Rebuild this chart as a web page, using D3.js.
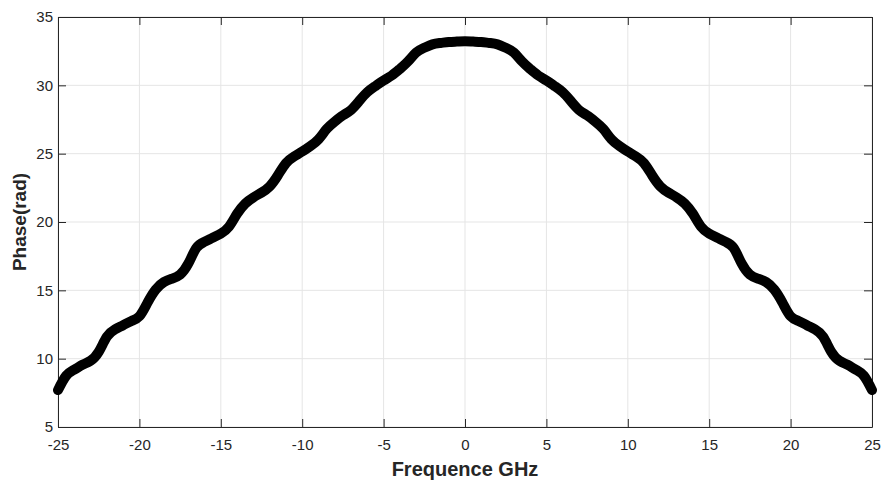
<html>
<head>
<meta charset="utf-8">
<title>Phase</title>
<style>
  body { margin: 0; background: #fff; }
  svg { display: block; font-family: Arial, 'Liberation Sans', sans-serif; }
</style>
</head>
<body>
<div id="chart"></div>
<script src="https://cdn.jsdelivr.net/npm/d3@7"></script>
<script>
  // data (GHz, rad)
  const freq = [-25, -24.5, -24, -23.5, -23, -22.5, -22, -21.5, -21, -20.5,
    -20, -19.5, -19, -18.5, -18, -17.5, -17, -16.5, -16, -15.5,
    -15, -14.5, -14, -13.5, -13, -12.5, -12, -11.5, -11, -10.5,
    -10, -9.5, -9, -8.5, -8, -7.5, -7, -6.5, -6, -5.5,
    -5, -4.5, -4, -3.5, -3, -2.5, -2, -1.5, -1, -0.5,
    0, 0.5, 1, 1.5, 2, 2.5, 3, 3.5, 4, 4.5,
    5, 5.5, 6, 6.5, 7, 7.5, 8, 8.5, 9, 9.5,
    10, 10.5, 11, 11.5, 12, 12.5, 13, 13.5, 14, 14.5,
    15, 15.5, 16, 16.5, 17, 17.5, 18, 18.5, 19, 19.5,
    20, 20.5, 21, 21.5, 22, 22.5, 23, 23.5, 24, 24.5, 25]
  const phase = [7.7, 8.75, 9.2, 9.55, 9.85, 10.5, 11.6, 12.15, 12.45, 12.75,
    13.1, 14.1, 15.05, 15.6, 15.85, 16.15, 16.95, 18.1, 18.55, 18.85,
    19.15, 19.65, 20.6, 21.35, 21.8, 22.15, 22.6, 23.4, 24.3, 24.8,
    25.15, 25.55, 26.05, 26.8, 27.35, 27.8, 28.2, 28.85, 29.5, 29.95,
    30.35, 30.72, 31.2, 31.75, 32.4, 32.75, 33.0, 33.1, 33.17, 33.2,
    33.22, 33.2, 33.17, 33.1, 33.0, 32.75, 32.4, 31.75, 31.2, 30.72,
    30.35, 29.95, 29.5, 28.85, 28.2, 27.8, 27.35, 26.8, 26.05, 25.55,
    25.15, 24.8, 24.3, 23.4, 22.6, 22.15, 21.8, 21.35, 20.6, 19.65,
    19.15, 18.85, 18.55, 18.1, 16.95, 16.15, 15.85, 15.6, 15.05, 14.1,
    13.1, 12.75, 12.45, 12.15, 11.6, 10.5, 9.85, 9.55, 9.2, 8.75, 7.7]
  const xTicks = [-25, -20, -15, -10, -5, 0, 5, 10, 15, 20, 25]
  const yTicks = [5, 10, 15, 20, 25, 30, 35]

  const W = 882, H = 482
  const pl = 58, pr = 872, pt = 17, pb = 427
  const axisCol = "#262626"

  const x = d3.scaleLinear().domain([-25, 25]).range([pl, pr])
  const y = d3.scaleLinear().domain([5, 35]).range([pb, pt])

  const svg = d3.select("#chart").append("svg")
    .attr("width", W).attr("height", H)

  //grid
  const grid = svg.append("g")
  grid.selectAll(".gx").data(xTicks).join("line").attr("class", "gx")
    .attr("x1", d => x(d)).attr("x2", d => x(d))
    .attr("y1", pt).attr("y2", pb)
    .attr("stroke", "#e5e5e5").attr("stroke-width", 1)
  grid.selectAll(".gy").data(yTicks).join("line").attr("class", "gy")
    .attr("x1", pl).attr("x2", pr)
    .attr("y1", d => y(d)).attr("y2", d => y(d))
    .attr("stroke", "#e5e5e5").attr("stroke-width", 1)

  //axes, ticks inward
  const fmt = d => String(d) // plain hyphen minus like the original
  function style(g) {
    g.select(".domain").attr("stroke", axisCol)
    g.selectAll(".tick line").attr("stroke", axisCol)
    g.selectAll(".tick text").attr("fill", axisCol).attr("font-size", "15px")
      .attr("font-family", "Arial, 'Liberation Sans', sans-serif")
  }
  svg.append("g").attr("transform", `translate(0,${pb})`)
    .call(d3.axisBottom(x).tickValues(xTicks).tickFormat(fmt).tickSize(-8).tickSizeOuter(0).tickPadding(12))
    .call(style)
  svg.append("g").attr("transform", `translate(0,${pt})`)
    .call(d3.axisTop(x).tickValues(xTicks).tickSize(-8).tickSizeOuter(0).tickFormat(""))
    .call(style)
  svg.append("g").attr("transform", `translate(${pl},0)`)
    .call(d3.axisLeft(y).tickValues(yTicks).tickFormat(fmt).tickSize(-8).tickSizeOuter(0).tickPadding(5))
    .call(style)
  svg.append("g").attr("transform", `translate(${pr},0)`)
    .call(d3.axisRight(y).tickValues(yTicks).tickSize(-8).tickSizeOuter(0).tickFormat(""))
    .call(style)

  //curve
  const line = d3.line()
    .x((d, i) => x(freq[i]))
    .y(d => y(d))
    .curve(d3.curveNatural)
  svg.append("path")
    .attr("d", line(phase))
    .attr("fill", "none")
    .attr("stroke", "#000")
    .attr("stroke-width", 10)
    .attr("stroke-linejoin", "round")
    .attr("stroke-linecap", "round")

  //labels
  svg.append("text")
    .attr("x", (pl + pr) / 2).attr("y", 476)
    .attr("text-anchor", "middle")
    .attr("font-size", "20px").attr("font-weight", "bold")
    .attr("fill", axisCol)
    .text("Frequence GHz")
  svg.append("text")
    .attr("transform", `translate(26,${(pt + pb) / 2}) rotate(-90)`)
    .attr("text-anchor", "middle")
    .attr("font-size", "19px").attr("font-weight", "bold")
    .attr("fill", axisCol)
    .text("Phase(rad)")
</script>
</body>
</html>
